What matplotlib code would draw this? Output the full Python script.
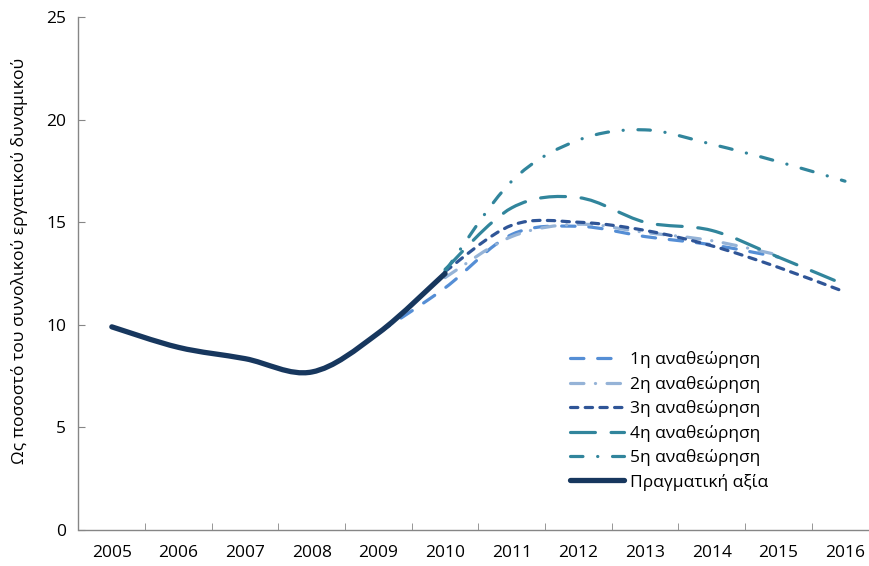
import numpy as np
import matplotlib
matplotlib.use("Agg")
import matplotlib.pyplot as plt
from matplotlib.path import Path
from matplotlib.patches import PathPatch
from matplotlib.lines import Line2D

plt.rcParams['font.family'] = ['Open Sans', 'DejaVu Sans']

years = [2005, 2006, 2007, 2008, 2009, 2010, 2011, 2012, 2013, 2014, 2015, 2016]
nan = np.nan
actual = [9.9, 8.9, 8.35, 7.7, 9.6, 12.5, nan, nan, nan, nan, nan, nan]
rev1 = [nan, nan, nan, nan, 9.6, 11.8, 14.4, 14.8, 14.3, 13.9, 13.3, nan]
rev2 = [nan, nan, nan, nan, nan, 12.3, 14.3, 14.9, 14.5, 14.1, 13.4, nan]
rev3 = [nan, nan, nan, nan, nan, 12.6, 14.85, 15.0, 14.6, 13.85, 12.8, 11.6]
rev4 = [nan, nan, nan, nan, nan, 12.7, 15.7, 16.2, 15.0, 14.6, 13.3, 11.95]
rev5 = [nan, nan, nan, nan, nan, 12.6, 17.0, 19.0, 19.5, 18.8, 17.95, 17.0]

labels = ['1η αναθεώρηση', '2η αναθεώρηση', '3η αναθεώρηση',
          '4η αναθεώρηση', '5η αναθεώρηση', 'Πραγματική αξία']
colors = ['#558ED5', '#95B3D7', '#2F5597', '#31859C', '#31859C', '#17375E']
dashes = [(0, (4.2, 4.3)),
          (0, (4.2, 3.6, 0.05, 3.6)),
          (0, (2.3, 2.3)),
          (0, (7.8, 4.9)),
          (0, (3.9, 4.6, 0.05, 4.6)),
          'solid']
widths = [2.3, 2.3, 2.3, 2.3, 2.3, 3.8]


def smooth_path(xs, ys):
    pts = np.array([(x, y) for x, y in zip(xs, ys) if not np.isnan(y)], dtype=float)
    n = len(pts)
    verts = [tuple(pts[0])]
    codes = [Path.MOVETO]
    for i in range(n - 1):
        p0 = pts[i - 1] if i > 0 else pts[i]
        p1 = pts[i]
        p2 = pts[i + 1]
        p3 = pts[i + 2] if i + 2 < n else pts[i + 1]
        c1 = p1 + (p2 - p0) / 6.0
        c2 = p2 - (p3 - p1) / 6.0
        verts += [tuple(c1), tuple(c2), tuple(p2)]
        codes += [Path.CURVE4] * 3
    return Path(verts, codes)


fig = plt.figure(figsize=(8.7, 5.66), dpi=100)
ax = fig.add_axes([78.5 / 870, 36 / 566, 1 - 78.5 / 870, (530 - 17) / 566])

series = [rev1, rev2, rev3, rev4, rev5, actual]
handles = []
for s, lab, c, ls, lw in zip(series, labels, colors, dashes, widths):
    patch = PathPatch(smooth_path(years, s), fill=False, edgecolor=c, linewidth=lw,
                      linestyle=ls, capstyle='round', joinstyle='round')
    ax.add_patch(patch)
    h = Line2D([], [], color=c, linewidth=lw, linestyle=ls,
               dash_capstyle='round', solid_capstyle='round')
    handles.append(h)

ax.set_xlim(2004.5, 2004.5 + (870 - 78.5) / 66.65)
ax.set_ylim(0, 25)
ax.set_yticks([0, 5, 10, 15, 20, 25])
ax.set_xticks(years)
ax.set_xticks([y + 0.5 for y in years[:-1]], minor=True)
ax.tick_params(axis='x', which='major', length=0, pad=11, labelsize=12.5, colors='#000000')
ax.tick_params(axis='x', which='minor', length=5, direction='in', color='#868686')
ax.tick_params(axis='y', which='major', length=5, direction='in', color='#868686',
               labelsize=12.5, pad=9)
for sp in ['top', 'right']:
    ax.spines[sp].set_visible(False)
for sp in ['left', 'bottom']:
    ax.spines[sp].set_color('#868686')
    ax.spines[sp].set_linewidth(1.0)

ax.set_ylabel('Ως ποσοστό του συνολικού εργατικού δυναμικού', fontsize=12.6)
ax.yaxis.set_label_coords(-0.064, 0.525)

leg = ax.legend(handles, labels, loc='upper left', bbox_to_anchor=(0.6125, 0.362),
                frameon=False, fontsize=12.5, handlelength=3.1, handletextpad=0.35,
                labelspacing=0.43, borderaxespad=0)

fig.savefig('out.png', dpi=100)
